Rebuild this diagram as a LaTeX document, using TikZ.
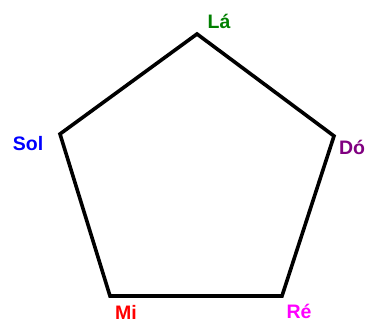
\documentclass[tikz,border=0pt]{standalone}
\usepackage{fontspec}
\setmainfont{Liberation Sans}
\begin{document}
\begin{tikzpicture}[x=1pt,y=-1pt,
  edge/.style={line width=3.6pt,line join=miter,black},
  lbl/.style={font=\fontsize{19.5}{22}\selectfont\bfseries,inner sep=0pt,anchor=center}]
\useasboundingbox (0,0) rectangle (370,323);
\coordinate (la) at (197,34);
\coordinate (do) at (334,136);
\coordinate (re) at (282,296);
\coordinate (mi) at (110,296);
\coordinate (sol) at (60,134);
\draw[edge] (la) -- (do) -- (re) -- (mi) -- (sol) -- cycle;
\node[lbl,text={rgb,255:red,0;green,128;blue,0}] (tla) at (219,21) {Lá};
\node[lbl,text={rgb,255:red,128;green,0;blue,128}] (tdo) at (352,147) {Dó};
\node[lbl,text={rgb,255:red,255;green,0;blue,255}] (tre) at (299,311) {Ré};
\node[lbl,text={rgb,255:red,255;green,0;blue,0}] (tmi) at (126,312.5) {Mi};
\node[lbl,text={rgb,255:red,0;green,0;blue,255}] (tsol) at (28,144) {Sol};
\end{tikzpicture}
\end{document}
